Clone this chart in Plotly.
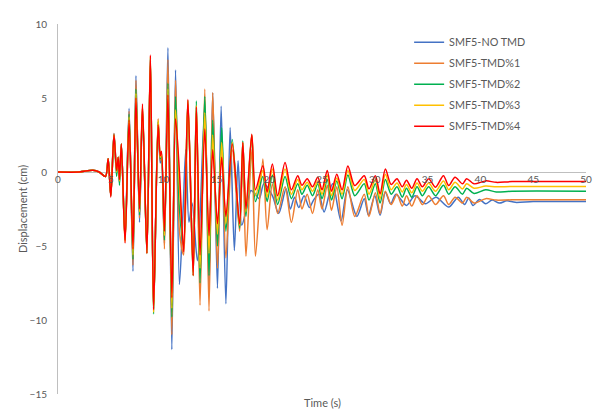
import plotly.graph_objects as go

# ---- data ----
t_early = [0, 2.0, 3.3, 3.9, 4.5, 4.75, 5.0, 5.3, 5.55, 5.7, 5.82, 6.0, 6.35, 6.73, 7.1, 7.38,
           7.72, 8.0, 8.42, 8.75, 9.05, 9.48, 9.68, 9.8, 10.08, 10.41, 10.78, 11.13]

no_tmd_early = [0, 0, 0.12, 0.0, -0.3, 0.9, -1.6, 2.6, 0.1, 1.0, -0.7, 1.9, -4.5, 4.3, -6.7, 6.5,
                -3.4, 4.1, -5.3, 7.5, -9.2, 3.3, 0.6, 1.0, -4.8, 8.4, -12.0, 6.9]
tmd1_early = [0, 0, 0.12, 0.0, -0.3, 0.9, -1.6, 2.6, 0.1, 1.0, -0.6, 1.9, -4.6, 4.1, -6.3, 6.2,
              -3.1, 4.2, -5.4, 7.6, -9.4, 3.6, 0.8, 1.1, -5.2, 7.6, -11.0, 6.2]
tmd2_early = [0, 0, 0.12, 0.0, -0.3, 0.9, -1.6, 2.5, -0.3, 1.0, -0.9, 1.9, -4.6, 3.9, -5.9, 5.6,
              -2.9, 4.3, -5.5, 7.7, -9.6, 3.4, 0.9, 1.2, -4.6, 6.0, -9.8, 5.1]
tmd3_early = [0, 0, 0.12, 0.0, -0.3, 0.9, -1.6, 2.5, 0.0, 1.0, -0.6, 1.9, -4.7, 3.7, -5.6, 5.3,
              -2.7, 4.5, -5.5, 7.8, -9.5, 3.5, 1.0, 1.3, -4.3, 5.6, -9.2, 4.2]
tmd4_early = [0, 0, 0.12, 0.0, -0.3, 0.9, -1.7, 2.5, 0.1, 1.0, -0.5, 1.9, -4.8, 3.5, -5.2, 5.0,
              -2.5, 4.6, -5.5, 7.9, -9.3, 3.2, 1.1, 1.4, -4.0, 5.2, -8.5, 3.6]

t_tail_a = [11.5, 11.85, 12.1, 12.4, 12.7, 13.2, 13.9, 14.3, 14.65, 15.1, 15.45, 15.9, 16.3, 16.7,
            17.05, 17.4, 17.9, 18.27, 18.7, 19.06, 19.5, 20.3, 20.9, 21.6, 22.0, 22.4, 22.8, 23.3,
            23.8, 24.2, 24.7, 25.2, 26.0, 26.8, 27.4, 28.3, 29.0, 29.4, 30.0, 30.5, 31.0, 31.5,
            32.0, 33.0, 33.8, 34.8, 35.8, 37.0, 37.9, 38.5, 38.9, 39.3, 39.9, 40.5, 41.1, 41.8,
            42.5, 43.3, 45.0, 50.0]
no_tmd_tail = [-7.6, -2.5, 1.5, -3.4, -2.1, -6.0, 4.5, -8.0, 5.35, -7.85, 4.45, -8.9, 3.0, -5.3,
               0.76, -3.6, -2.3, -1.25, -1.5, -1.8, -0.8, -1.6, -2.8, -1.14, -2.5, -1.7, -2.4, -1.6,
               -2.4, -1.9, -1.5, -2.7, -0.8, -3.3, -1.2, -3.0, -1.8, -2.93, -1.6, -2.93, -1.36, -2.15,
               -1.5, -2.26, -1.6, -2.15, -1.7, -2.37, -1.7, -2.2, -1.75, -2.26, -1.85, -2.15, -1.9, -2.1,
               -1.95, -2.05, -2.0, -2.0]

t_tail_b = [11.5, 11.9, 12.3, 12.8, 13.1, 13.45, 13.9, 14.3, 14.65, 15.1, 15.5, 15.9, 16.5, 17.2,
            17.5, 17.8, 18.35, 18.7, 19.4, 19.8, 20.3, 20.8, 21.5, 22.1, 22.7, 23.1, 23.6, 24.1,
            24.6, 25.0, 25.5, 25.9, 26.4, 26.9, 27.45, 28.1, 29.0, 29.45, 30.05, 30.5, 31.0, 31.55,
            32.1, 32.6, 33.0, 33.5, 34.0, 34.5, 35.1, 35.75, 36.5, 37.0, 37.6, 38.3, 38.7, 39.4,
            40.5, 41.5, 43.0, 50.0]
tmd1_tail = [-4.0, -5.6, 4.6, -6.5, 4.0, -9.0, 5.6, -9.4, 5.35, -6.5, 2.4, -5.8, 1.5, -4.0,
             1.0, -5.7, 1.5, -5.7, 0.87, -3.9, -0.8, -2.8, -1.0, -3.4, -1.2, -2.5, -1.5, -2.8,
             -1.2, -2.5, -0.9, -2.6, -1.0, -3.6, -1.0, -3.0, -1.5, -3.0, -1.4, -2.8, -1.3, -2.2,
             -1.5, -2.3, -1.6, -2.3, -1.6, -2.2, -1.6, -2.2, -1.6, -2.2, -1.7, -2.1, -1.7, -2.1,
             -1.8, -1.9, -1.88, -1.88]
tmd2_tail = [-2.5, -5.0, 4.8, -7.0, 4.8, -7.5, 5.1, -7.0, 3.5, -5.0, 3.0, -4.0, 2.2, -3.8,
             2.1, -3.0, 2.5, -2.0, -0.3, -2.0, -0.2, -2.2, -0.3, -1.8, -0.8, -1.5, -0.9, -1.6,
             -0.8, -1.8, -0.5, -1.9, -0.6, -1.8, -0.2, -1.6, -0.8, -1.9, -0.8, -2.1, -0.5, -1.5,
             -1.0, -1.7, -1.1, -1.7, -1.0, -1.6, -1.0, -1.6, -0.9, -1.5, -1.0, -1.5, -1.1, -1.45,
             -1.2, -1.35, -1.3, -1.3]
tmd3_tail = [-1.0, -5.2, 4.8, -7.0, 4.5, -6.5, 4.0, -5.5, 2.5, -4.2, 2.0, -3.5, 2.0, -3.6,
             2.0, -2.7, 2.5, -1.6, 0.1, -1.7, 0.2, -1.9, 0.2, -1.5, -0.5, -1.2, -0.7, -1.3,
             -0.6, -1.5, -0.2, -1.6, -0.4, -1.5, 0.1, -1.25, -0.5, -1.5, -0.5, -1.8, -0.15, -1.2,
             -0.75, -1.35, -0.85, -1.4, -0.75, -1.3, -0.75, -1.3, -0.6, -1.2, -0.7, -1.15, -0.8, -1.1,
             -0.95, -1.0, -0.98, -0.98]
tmd4_tail = [0.0, -5.4, 4.9, -7.0, 4.4, -5.6, 2.9, -4.3, 1.5, -3.5, 1.0, -3.0, 1.9, -3.5,
             2.0, -2.5, 2.55, -1.2, 0.42, -1.36, 0.54, -1.6, 0.65, -1.2, -0.25, -0.9, -0.45, -1.0,
             -0.35, -1.2, 0.1, -1.3, -0.15, -1.2, 0.4, -0.92, -0.25, -1.14, -0.25, -1.48, 0.2, -0.85,
             -0.45, -1.0, -0.55, -1.1, -0.45, -1.0, -0.45, -1.03, -0.25, -0.92, -0.35, -0.8, -0.45, -0.8,
             -0.6, -0.7, -0.65, -0.65]

series_names = ["SMF5-NO TMD", "SMF5-TMD%1", "SMF5-TMD%2", "SMF5-TMD%3", "SMF5-TMD%4"]
x_ticks = [0, 5, 10, 15, 20, 25, 30, 35, 40, 45, 50]
y_ticks = [-15, -10, -5, 0, 5, 10]

colors = ["#4472C4", "#ED7D31", "#00B050", "#FFC000", "#FF0000"]

series = [
    (t_early + t_tail_a, no_tmd_early + no_tmd_tail),
    (t_early + t_tail_b, tmd1_early + tmd1_tail),
    (t_early + t_tail_b, tmd2_early + tmd2_tail),
    (t_early + t_tail_b, tmd3_early + tmd3_tail),
    (t_early + t_tail_b, tmd4_early + tmd4_tail),
]

fig = go.Figure()
for i, ((xs, ys), name, c) in enumerate(zip(series, series_names, colors)):
    fig.add_trace(go.Scatter(x=xs, y=ys, mode="lines", name=name, legendgroup=f"g{i}",
                             line=dict(color=c, width=1.5, shape="spline", smoothing=0.8)))

font_family = "Lato, 'Open Sans', sans-serif"
grey = "#595959"

fig.update_layout(
    width=604, height=412,
    margin=dict(l=58, r=16, t=24, b=15),
    paper_bgcolor="white", plot_bgcolor="white",
    font=dict(family=font_family, size=10, color=grey),
    showlegend=True,
    legend=dict(x=0.665, y=0.99, xanchor="left", yanchor="top",
                font=dict(size=10.8, color=grey), bgcolor="rgba(0,0,0,0)",
                itemwidth=30, tracegroupgap=2),
    xaxis=dict(range=[0, 50], tickvals=x_ticks, showgrid=False, zeroline=False,
               showline=False, ticks="", anchor="free", position=0.6,
               tickfont=dict(size=10, color=grey)),
    yaxis=dict(range=[-15, 10], tickvals=y_ticks, showgrid=False, zeroline=True,
               zerolinecolor="#BFBFBF", zerolinewidth=1,
               showline=True, linecolor="#BFBFBF", linewidth=1, ticks="",
               ticklabelstandoff=8, tickfont=dict(size=10, color=grey)),
    annotations=[
        dict(text="Time (s)", x=0.5, y=-0.022, xref="paper", yref="paper",
             xanchor="center", yanchor="middle", showarrow=False,
             font=dict(size=11, color=grey)),
        dict(text="Displacement (cm)", x=-0.068, y=0.5, xref="paper", yref="paper",
             xanchor="center", yanchor="middle", textangle=-90, showarrow=False,
             font=dict(size=11, color=grey)),
    ],
)

fig.write_html("out.html")
